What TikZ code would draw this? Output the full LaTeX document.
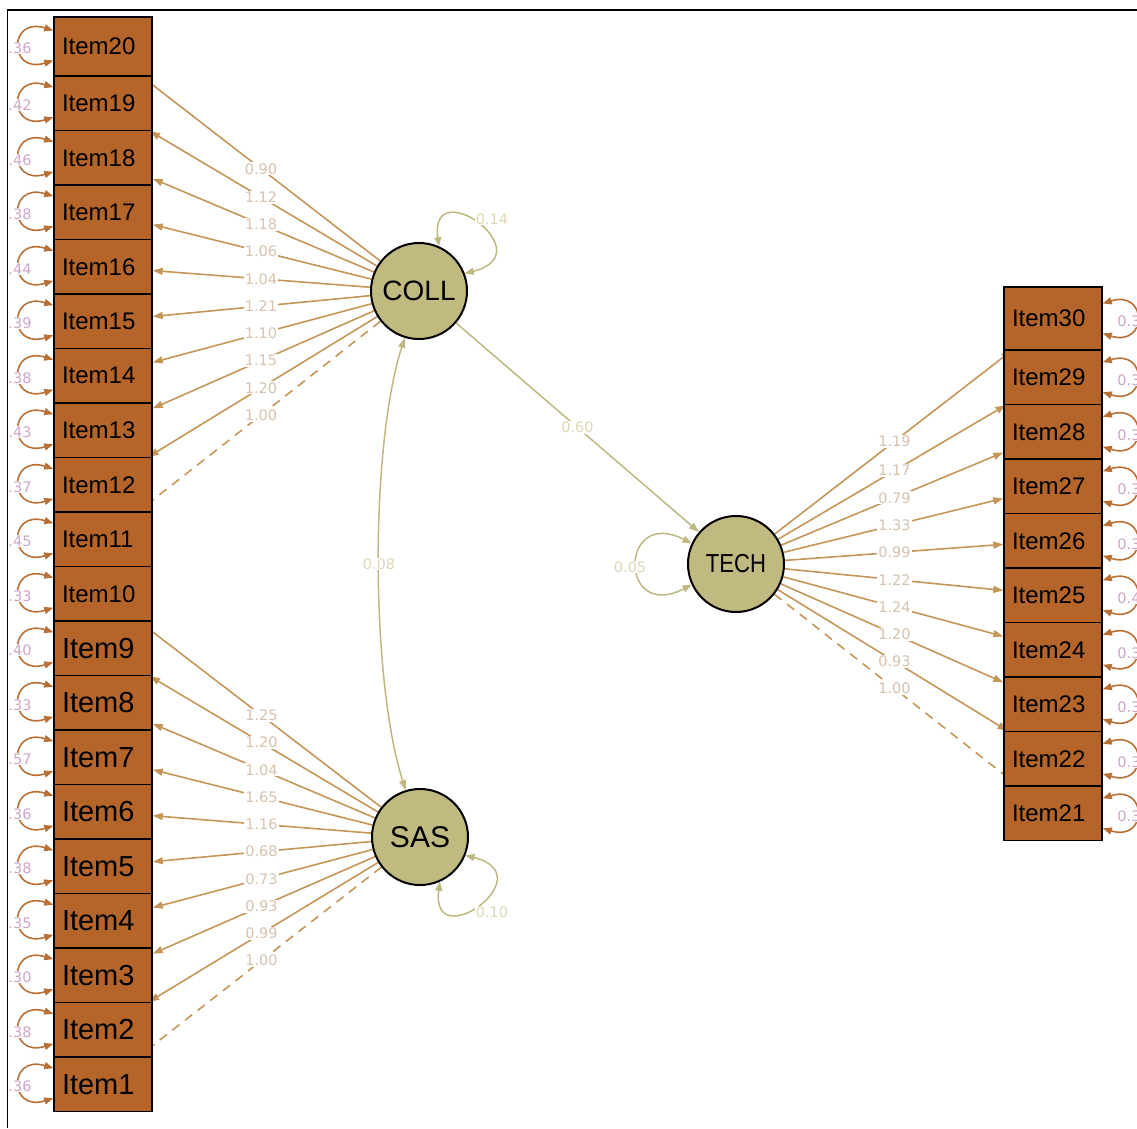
\documentclass[tikz,border=0pt]{standalone}
\usepackage{fontspec}
\setmainfont{Liberation Sans}
\newfontfamily\lblfont{DejaVu Sans}
\usetikzlibrary{arrows.meta,calc,backgrounds}
\definecolor{boxfill}{RGB}{181,101,41}
\definecolor{latfill}{RGB}{192,186,128}
\definecolor{loadcol}{RGB}{196,150,88}
\definecolor{loadlbl}{RGB}{214,194,174}
\definecolor{structcol}{RGB}{190,184,128}
\definecolor{structlbl}{RGB}{222,216,180}
\definecolor{residcol}{RGB}{186,112,52}
\definecolor{residlbl}{RGB}{206,165,200}
\begin{document}
\begin{tikzpicture}[x=1pt,y=-1pt,
  itembox/.style={draw=black,line width=1.5pt,fill=boxfill,minimum height=54.5pt,
    text width=82pt,inner xsep=8pt,inner ysep=0pt,align=left,text=black},
  smallitem/.style={itembox,font=\fontsize{24}{26}\selectfont},
  bigitem/.style={itembox,font=\fontsize{29}{31}\selectfont},
  latent/.style={circle,draw=black,line width=2pt,fill=latfill,minimum size=96pt,inner sep=0pt},
  loadline/.style={draw=loadcol,line width=1.6pt,-{Triangle[length=10pt,width=7pt]}},
  fixedline/.style={draw=loadcol,line width=1.6pt,dash pattern=on 9pt off 7pt,-{Triangle[length=10pt,width=7pt]}},
  structline/.style={draw=structcol,line width=1.5pt},
  structtip/.style={-{Triangle[length=10pt,width=7pt]}},
  residline/.style={draw=residcol,line width=1.6pt,{Triangle[length=9pt,width=7pt]}-{Triangle[length=9pt,width=7pt]}},
  lbl/.style={fill=white,inner sep=1pt,font=\lblfont\fontsize{14.5}{16}\selectfont,text=loadlbl},
  slbl/.style={fill=white,inner sep=1pt,font=\lblfont\fontsize{14.5}{16}\selectfont,text=structlbl},
  rlbl/.style={fill=white,inner sep=0.5pt,font=\lblfont\fontsize{14.5}{16}\selectfont,text=residlbl}]
\useasboundingbox (0,0) rectangle (1137,1128);
\begin{scope}
\clip (8.2,10.8) rectangle (1137,1128);
% left items
\node[smallitem,minimum height=59pt] (I20) at (103,46.5) {Item20};
\foreach \k in {10,...,19} {
  \pgfmathsetmacro\cy{103.25+(19-\k)*54.5}
  \node[smallitem] (I\k) at (103,\cy) {Item\k};
}
\foreach \k in {1,...,9} {
  \pgfmathsetmacro\cy{103.25+(19-\k)*54.5}
  \node[bigitem] (I\k) at (103,\cy) {Item\k};
}
% right items
\node[smallitem,minimum height=63pt] (I30) at (1053,318.5) {Item30};
\foreach \k in {21,...,29} {
  \pgfmathsetmacro\cy{377.25+(29-\k)*54.5}
  \node[smallitem] (I\k) at (1053,\cy) {Item\k};
}
% latent variables
\node[latent,font=\fontsize{28}{30}\selectfont] (COLL) at (419,291) {COLL};
\node[latent,font=\fontsize{30}{32}\selectfont] (SAS) at (420,837) {SAS};
\node[latent,font=\fontsize{26}{28}\selectfont] (TECH) at (736,564) {\scalebox{0.85}[1]{TECH}};
% loadings
\begin{scope}[on background layer]
\foreach \k in {20,19,18,17,16,15,14,13,12} \draw[loadline] (COLL) -- (I\k);
\draw[fixedline] (COLL) -- (I11);
\foreach \k in {10,9,8,7,6,5,4,3,2} \draw[loadline] (SAS) -- (I\k);
\draw[fixedline] (SAS) -- (I1);
\foreach \k in {30,29,28,27,26,25,24,23,22} \draw[loadline] (TECH) -- (I\k);
\draw[fixedline] (TECH) -- (I21);
\end{scope}
\foreach \k/\v in {20/0.90,19/1.12,18/1.18,17/1.06,16/1.04,15/1.21,14/1.10,13/1.15,12/1.20,11/1.00}
  \node[lbl] at ($(COLL)!0.5!(I\k)$) {\v};
\foreach \k/\v in {10/1.25,9/1.20,8/1.04,7/1.65,6/1.16,5/0.68,4/0.73,3/0.93,2/0.99,1/1.00}
  \node[lbl] at ($(SAS)!0.5!(I\k)$) {\v};
\foreach \k/\v in {30/1.19,29/1.17,28/0.79,27/1.33,26/0.99,25/1.22,24/1.24,23/1.20,22/0.93,21/1.00}
  \node[lbl] at ($(TECH)!0.5!(I\k)$) {\v};
% structural paths
\draw[structline,structtip] (COLL) -- (TECH);
\node[slbl] at ($(COLL)!0.5!(TECH)$) {0.60};
\draw[structline,{Triangle[length=10pt,width=7pt]}-{Triangle[length=10pt,width=7pt]}]
  (COLL.-107) .. controls +(-35,110) and +(-35,-110) .. (SAS.107) node[slbl,pos=0.5] {0.08};
\draw[structline,{Triangle[length=9pt,width=7pt]}-{Triangle[length=9pt,width=7pt]}]
  (COLL.66) .. controls +(-10,-75) and +(80,-20) .. (COLL.21);
\node[slbl] at ($(COLL)+(73,-72)$) {0.14};
\draw[structline,{Triangle[length=9pt,width=7pt]}-{Triangle[length=9pt,width=7pt]}]
  (SAS.-22) .. controls +(80,20) and +(-10,75) .. (SAS.-66);
\node[slbl] at ($(SAS)+(72,75)$) {0.10};
\draw[structline,{Triangle[length=9pt,width=7pt]}-{Triangle[length=9pt,width=7pt]}]
  (TECH.155) .. controls +(-73,-37) and +(-73,38) .. (TECH.205);
\node[slbl] at ($(TECH)+(-106,3)$) {0.05};
% residual variances, left
\foreach \k/\v in {20/0.36,19/0.42,18/0.46,17/0.38,16/0.44,15/0.39,14/0.38,13/0.43,12/0.37,11/0.45,10/0.33,9/0.40,8/0.33,7/0.57,6/0.36,5/0.38,4/0.35,3/0.30,2/0.38,1/0.36} {
  \draw[residline] ($(I\k.west)+(0,-16)$) .. controls +(-45,-14) and +(-45,14) .. ($(I\k.west)+(0,14)$);
  \node[rlbl,anchor=east] at ($(I\k.west)+(-21,2)$) {\v};
}
% residual variances, right
\foreach \k/\v in {30/0.33,29/0.32,28/0.34,27/0.31,26/0.30,25/0.41,24/0.36,23/0.35,22/0.33,21/0.32} {
  \draw[residline] ($(I\k.east)+(0,-15)$) .. controls +(45,-14) and +(45,14) .. ($(I\k.east)+(0,15)$);
  \node[rlbl,anchor=west] at ($(I\k.east)+(14,3)$) {\v};
}
\end{scope}
% frame
\draw[line width=1.3pt,black] (7.5,1128) -- (7.5,10) -- (1137,10);
\end{tikzpicture}
\end{document}
